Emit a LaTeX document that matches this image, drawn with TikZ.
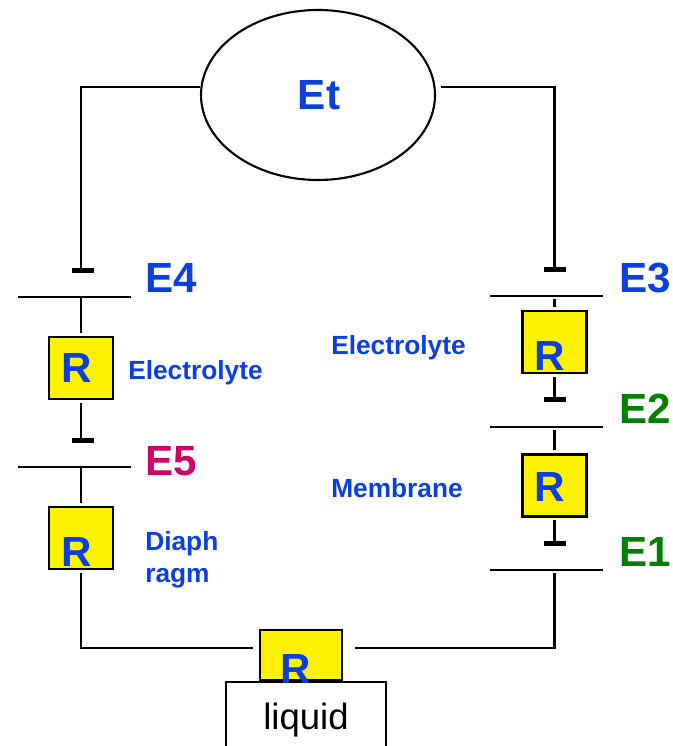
\documentclass[tikz,border=0pt]{standalone}
\usepackage{fontspec}
\setmainfont{Liberation Sans}
\usepackage{xcolor}
\usetikzlibrary{shapes.geometric, positioning, calc}
\definecolor{eblue}{HTML}{0B3FE0}
\definecolor{egreen}{HTML}{007F00}
\definecolor{ered}{HTML}{CC0066}
\tikzset{
	wire/.style={line width=1.5pt, black},
	plate/.style={rectangle, fill=black, inner sep=0pt, minimum width=2.825cm, minimum height=0.055cm},
	tbar/.style={rectangle, fill=black, inner sep=0pt, minimum width=0.56cm, minimum height=0.125cm},
	rbox/.style={rectangle, draw, line width=1.5pt, fill=yellow, inner sep=0pt, outer sep=0.1cm, minimum width=1.6cm, minimum height=1.55cm},
	rlabel/.style={inner sep=0pt, text=eblue, font=\bfseries\fontsize{30}{36}\selectfont},
	elabel/.style={inner sep=0pt, anchor=west, font=\bfseries\fontsize{30}{36}\selectfont},
	medium/.style={inner sep=0pt, anchor=base west, align=left, text=eblue, font=\bfseries\fontsize{18.7}{22.8}\selectfont}
}
\begin{document}
\begin{tikzpicture}
		\clip (0cm,0cm) rectangle (16.8cm,18.65cm);
		\draw (7.95cm,16.275cm) node[ellipse, draw, line width=1.5pt, inner sep=0pt, minimum width=5.85cm, minimum height=4.25cm] (et) {}
		(7.975cm,16.275cm) node[rlabel] (etl) {Et}
		(2.075cm,11.875cm) node[tbar] (b4) {}
		(1.8625cm,11.225cm) node[plate] (p4) {}
		(2.025cm,9.45cm) node[rbox] (r4) {}
		(2.075cm,7.625cm) node[tbar] (b5) {}
		(1.8625cm,6.975cm) node[plate] (p5) {}
		(2.025cm,5.2cm) node[rbox] (r5) {}
		(13.875cm,11.9cm) node[tbar] (b3) {}
		(13.6625cm,11.25cm) node[plate] (p3) {}
		(13.8625cm,10.1cm) node[rbox] (r3) {}
		(13.875cm,8.65cm) node[tbar] (b2) {}
		(13.6625cm,7.975cm) node[plate] (p2) {}
		(13.8625cm,6.5125cm) node[rbox] (r2) {}
		(13.875cm,5.05cm) node[tbar] (b1) {}
		(13.6625cm,4.4cm) node[plate] (p1) {}
		(7.525cm,2.275cm) node[rbox, minimum width=2.05cm, minimum height=1.25cm] (rb) {}
		(7.65cm,0.65cm) node[draw, line width=1.2pt, fill=white, inner sep=0pt, minimum width=4cm, minimum height=1.9cm, font=\fontsize{26}{31}\selectfont] (lq) {liquid};

		% resistor letters
		\draw (1.925cm,9.45cm) node[rlabel] (lr4) {R}
		(1.925cm,4.85cm) node[rlabel] (lr5) {R}
		(13.75cm,9.75cm) node[rlabel] (lr3) {R}
		(13.75cm,6.475cm) node[rlabel] (lr2) {R}
		(7.4cm,1.925cm) node[rlabel] (lrb) {R};

		% electrode names
		\draw (3.625cm,11.7cm) node[elabel, text=eblue] (e4) {E4}
		(3.625cm,7.125cm) node[elabel, text=ered] (e5) {E5}
		(15.475cm,11.7cm) node[elabel, text=eblue] (e3) {E3}
		(15.475cm,8.425cm) node[elabel, text=egreen] (e2) {E2}
		(15.475cm,4.85cm) node[elabel, text=egreen] (e1) {E1};

		\draw (3.2cm,9.15cm) node[medium] (m1) {Electrolyte}
		(8.275cm,9.775cm) node[medium] (m2) {Electrolyte}
		(8.275cm,6.2cm) node[medium] (m3) {Membrane}
		(3.625cm,4.65cm) node[medium, anchor=west] (m4) {Diaph\\ragm};

		\coordinate (tl) at (2.025cm,16.475cm);
		\coordinate (tr) at (13.8625cm,16.475cm);
		\coordinate (bl) at (2.025cm,2.45cm);
		\coordinate (br) at (13.8625cm,2.45cm);

		\draw[wire] (tl -| et.west) -- (tl) -- (b4.north -| tl);
		\draw[wire, shorten <=0.125cm] (tr -| et.east) -- (tr) -- (b3.north -| tr);
		\draw[wire] (p4.south -| r4.north) -- (r4.north);
		\draw[wire] (r4.south) -- (b5.north -| r4.south);
		\draw[wire] (p5.south -| r5.north) -- (r5.north);
		\draw[wire, shorten >=0.075cm] (r5.south) -- (bl) -- (bl -| rb.west);
		\draw[wire, shorten <=0.05cm] (p3.south -| r3.north) -- (r3.north);
		\draw[wire] (r3.south) -- (b2.north -| r3.south);
		\draw[wire, shorten <=0.05cm] (p2.south -| r2.north) -- (r2.north);
		\draw[wire] (r2.south) -- (b1.north -| r2.south);
		\draw[wire, shorten <=0.05cm, shorten >=0.225cm] (p1.south -| br) -- (br) -- (br -| rb.east);
	\end{tikzpicture}
\end{document}
